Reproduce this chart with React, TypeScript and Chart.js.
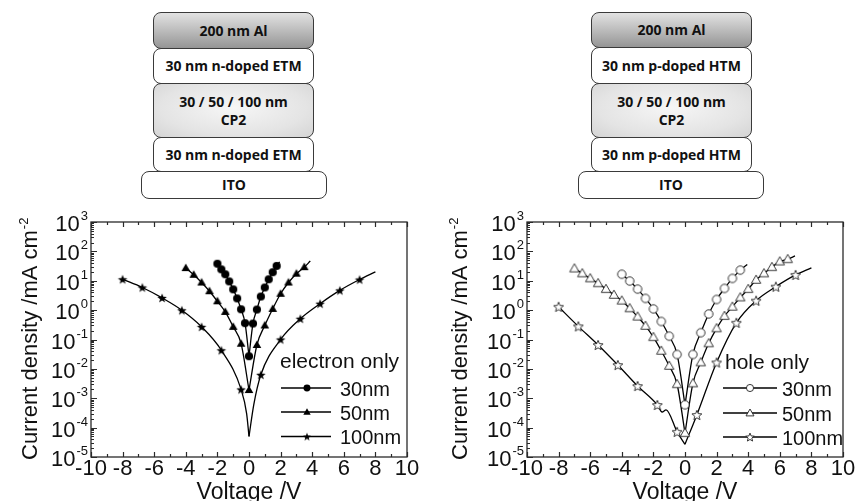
import React, { useEffect, useRef } from 'react';
import { Chart, registerables } from 'chart.js';

Chart.register(...registerables);

const FONT = "'Liberation Sans', Arial, Helvetica, sans-serif";
const STACK_FONT = "'Open Sans', 'Noto Sans', sans-serif";

// ---------- axis ticks ----------
const xTickLabels = [-10, -8, -6, -4, -2, 0, 2, 4, 6, 8, 10];
const xMinorTicks = [-9, -7, -5, -3, -1, 1, 3, 5, 7, 9];
const yTickExps = [-5, -4, -3, -2, -1, 0, 1, 2, 3];
const yMinorMult = [2, 3, 4, 5, 6, 7, 8, 9];

// ---------- electron only ----------
const e30V = [-2, -1.75, -1.5, -1.25, -1, -0.75, -0.5, -0.25, 0, 0.25, 0.5, 0.75, 1, 1.25, 1.5, 1.75];
const e30J = [38, 24.5, 16.6, 9.5, 5.1, 2.5, 1.07, 0.36, 0.027, 0.35, 1.05, 2.9, 5.9, 11.2, 19.5, 32];
const e30CurveV = [1.94];
const e30CurveJ = [44];

const e50V = [-4, -3.5, -3, -2.5, -2, -1.5, -1, -0.5, 0, 0.5, 1, 1.5, 2, 2.5, 3, 3.5];
const e50J = [27, 16, 8.7, 4.4, 2.0, 0.87, 0.27, 0.072, 0.0019, 0.065, 0.3, 1.1, 3.6, 8.7, 17.4, 29];
const e50CurveV = [3.88];
const e50CurveJ = [47];

const e100V = [-8, -6.75, -5.5, -4.25, -3, -1.75, -0.5, 0.75, 2, 3.25, 4.5, 5.75, 7];
const e100J = [11.2, 5.9, 2.6, 0.99, 0.27, 0.043, 0.002, 0.0063, 0.1, 0.51, 1.66, 4.7, 11];
const e100CurveV = [-0.15, 0, 0.3, 8];
const e100CurveJ = [3e-4, 5e-5, 6e-4, 20];

// ---------- hole only ----------
const h30V = [-4, -3.5, -3, -2.5, -2, -1.5, -1, -0.5, 0, 0.5, 1, 1.5, 2, 2.5, 3, 3.5];
const h30J = [16.7, 9.8, 5.2, 2.5, 1.1, 0.41, 0.13, 0.031, 0.0006, 0.031, 0.17, 0.74, 2.3, 5.5, 12, 23];
const h30CurveV = [3.94];
const h30CurveJ = [36];

const h50V = [-7, -6.5, -6, -5.5, -5, -4.5, -4, -3.5, -3, -2.5, -2, -1.5, -1, -0.5, 0, 0.5, 1, 1.5, 2, 2.5, 3, 3.5, 4, 4.5, 5, 5.5, 6, 6.5];
const h50J = [26, 17.8, 12, 8.2, 5.2, 3.3, 2.1, 1.15, 0.6, 0.29, 0.12, 0.041, 0.0126, 0.003, 6.5e-5, 0.0032, 0.0166, 0.074, 0.24, 0.63, 1.3, 2.7, 5.2, 10.7, 17.8, 29, 45, 54];
const h50CurveV = [6.96];
const h50CurveJ = [70];

const h100V = [-8, -6.75, -5.5, -4.25, -3, -1.75, -0.5, 0.75, 2, 3.25, 4.5, 5.75, 7];
const h100J = [1.3, 0.28, 0.065, 0.0135, 0.0026, 0.00059, 7.2e-5, 2.7e-4, 0.0165, 0.37, 2.1, 6.3, 15.8];
const h100CurveV = [-1.45, -1.2, 0, 8];
const h100CurveJ = [3.4e-4, 4.0e-4, 2.7e-5, 27.5];

const seriesNames = ['30nm', '50nm', '100nm'];

// ---------- layer stacks ----------
const leftLayers = ['200 nm Al', '30 nm n-doped ETM', '30 / 50 / 100 nm|CP2', '30 nm n-doped ETM', 'ITO'];
const rightLayers = ['200 nm Al', '30 nm p-doped HTM', '30 / 50 / 100 nm|CP2', '30 nm p-doped HTM', 'ITO'];

type Kind = 'fcircle' | 'ftri' | 'fstar' | 'ocircle' | 'otri' | 'ostar';

function makeSprite(kind: Kind, scale = 1): HTMLCanvasElement {
  const S = 14;
  const c = document.createElement('canvas');
  c.width = S;
  c.height = S;
  const ctx = c.getContext('2d')!;
  const cx = S / 2, cy = S / 2;
  const filled = kind[0] === 'f';
  ctx.beginPath();
  if (kind === 'fcircle' || kind === 'ocircle') {
    ctx.arc(cx, cy, (filled ? 4.1 : 4.2) * scale, 0, Math.PI * 2);
  } else if (kind === 'ftri' || kind === 'otri') {
    const r = (filled ? 5.0 : 5.4) * scale;
    for (let i = 0; i < 3; i++) {
      const a = -Math.PI / 2 + (i * 2 * Math.PI) / 3;
      const px = cx + r * Math.cos(a), py = cy + 0.6 + r * Math.sin(a);
      if (i === 0) ctx.moveTo(px, py); else ctx.lineTo(px, py);
    }
    ctx.closePath();
  } else {
    const ro = (filled ? 5.0 : 5.2) * scale, ri = (filled ? 2.1 : 2.3) * scale;
    for (let i = 0; i < 10; i++) {
      const a = -Math.PI / 2 + (i * Math.PI) / 5;
      const r = i % 2 === 0 ? ro : ri;
      const px = cx + r * Math.cos(a), py = cy + 0.5 + r * Math.sin(a);
      if (i === 0) ctx.moveTo(px, py); else ctx.lineTo(px, py);
    }
    ctx.closePath();
  }
  if (filled) {
    ctx.fillStyle = '#000';
    ctx.fill();
  } else {
    ctx.fillStyle = '#fff';
    ctx.fill();
    ctx.strokeStyle = '#222';
    ctx.lineWidth = 0.9;
    ctx.stroke();
  }
  return c;
}

function branches(mV: number[], mJ: number[], cV: number[], cJ: number[]) {
  const pts = mV.map((v, i) => ({ x: v, y: mJ[i] }))
    .concat(cV.map((v, i) => ({ x: v, y: cJ[i] })))
    .sort((a, b) => a.x - b.x);
  return [pts.filter(p => p.x <= 0), pts.filter(p => p.x >= 0)];
}

interface Series { mV: number[]; mJ: number[]; cV: number[]; cJ: number[]; sprite: HTMLCanvasElement; }

interface Decor {
  title: string;
  titleX: number; titleBase: number;
  legLineX0: number; legLineX1: number; legMarkX: number; legTextX: number;
  legRows: number[];
  sprites: HTMLCanvasElement[];
}

function drawPow(ctx: CanvasRenderingContext2D, exp: string, xRight: number, yTick: number) {
  ctx.font = `22px ${FONT}`;
  const wBase = ctx.measureText('10').width;
  ctx.font = `13px ${FONT}`;
  const wExp = ctx.measureText(exp).width;
  const x0 = xRight - wBase - wExp - 1;
  ctx.textAlign = 'left';
  ctx.textBaseline = 'alphabetic';
  ctx.font = `22px ${FONT}`;
  ctx.fillText('10', x0, yTick + 9);
  ctx.font = `13px ${FONT}`;
  ctx.fillText(exp, x0 + wBase + 1, yTick - 2);
}

function makeDecor(d: Decor) {
  return {
    id: 'decor',
    afterDraw(chart: any) {
      const ctx: CanvasRenderingContext2D = chart.ctx;
      const a = chart.chartArea;
      const xs = chart.scales.x, ys = chart.scales.y;
      ctx.save();
      ctx.strokeStyle = '#2a2a2a';
      ctx.lineWidth = 1.2;
      ctx.beginPath();
      const xt = (v: number, len: number) => {
        const px = Math.round(xs.getPixelForValue(v)) + 0.5;
        ctx.moveTo(px, a.bottom); ctx.lineTo(px, a.bottom - len);
        ctx.moveTo(px, a.top); ctx.lineTo(px, a.top + len);
      };
      xTickLabels.forEach(v => xt(v, 5));
      xMinorTicks.forEach(v => xt(v, 3));
      yTickExps.forEach((e, i) => {
        const py = Math.round(ys.getPixelForValue(Math.pow(10, e))) + 0.5;
        ctx.moveTo(a.left, py); ctx.lineTo(a.left + 6, py);
        if (i < yTickExps.length - 1) {
          yMinorMult.forEach(m => {
            const q = Math.round(ys.getPixelForValue(m * Math.pow(10, e))) + 0.5;
            ctx.moveTo(a.left, q); ctx.lineTo(a.left + 3, q);
          });
        }
      });
      ctx.stroke();
      ctx.lineWidth = 1.3;
      ctx.strokeRect(a.left, a.top, a.right - a.left, a.bottom - a.top);

      ctx.fillStyle = '#111';
      // x tick labels
      ctx.font = `22px ${FONT}`;
      ctx.textAlign = 'center';
      ctx.textBaseline = 'alphabetic';
      xTickLabels.forEach(v => {
        ctx.fillText(String(v), xs.getPixelForValue(v), a.bottom + 18);
      });
      // y tick labels
      yTickExps.forEach(e => {
        drawPow(ctx, String(e), a.left - 3, ys.getPixelForValue(Math.pow(10, e)));
      });
      // x title
      ctx.font = `23px ${FONT}`;
      ctx.textAlign = 'center';
      ctx.fillText('Voltage /V', (a.left + a.right) / 2, 299);
      // y title
      ctx.save();
      ctx.translate(37, 260);
      ctx.rotate(-Math.PI / 2);
      ctx.font = `22px ${FONT}`;
      ctx.textAlign = 'left';
      const main = 'Current density /mA cm';
      ctx.fillText(main, 0, 0);
      const wm = ctx.measureText(main).width;
      ctx.font = `13px ${FONT}`;
      ctx.fillText('-2', wm + 1, -9);
      ctx.restore();

      // legend
      ctx.font = `21px ${FONT}`;
      ctx.textAlign = 'left';
      ctx.fillText(d.title, d.titleX, d.titleBase);
      ctx.font = `20px ${FONT}`;
      ctx.strokeStyle = '#000';
      ctx.lineWidth = 1.3;
      d.legRows.forEach((y, i) => {
        ctx.beginPath();
        ctx.moveTo(d.legLineX0, y);
        ctx.lineTo(d.legLineX1, y);
        ctx.stroke();
        const s = d.sprites[i];
        ctx.drawImage(s, d.legMarkX - s.width / 2, y - s.height / 2);
        ctx.fillText(seriesNames[i], d.legTextX, y + 7.5);
      });
      ctx.restore();
    },
  };
}

function buildConfig(series: Series[], padding: any, decor: Decor): any {
  const datasets: any[] = [];
  series.forEach(s => {
    datasets.push({
      data: s.mV.map((v, i) => ({ x: v, y: s.mJ[i] })),
      showLine: false,
      pointStyle: s.sprite,
      pointRadius: 5,
      order: 0,
    });
  });
  series.forEach(s => {
    branches(s.mV, s.mJ, s.cV, s.cJ).forEach(b => {
      datasets.push({
        data: b,
        showLine: true,
        pointRadius: 0,
        borderColor: '#000',
        borderWidth: 1.3,
        cubicInterpolationMode: 'monotone',
        order: 1,
      });
    });
  });
  return {
    type: 'scatter',
    data: { datasets },
    options: {
      animation: false,
      responsive: false,
      devicePixelRatio: 1,
      layout: { padding },
      events: [],
      scales: {
        x: { type: 'linear', min: -10, max: 10, display: false },
        y: { type: 'logarithmic', min: 1e-5, max: 1e3, display: false },
      },
      plugins: { legend: { display: false }, tooltip: { enabled: false } },
    },
    plugins: [makeDecor(decor)],
  };
}

interface LayerBox { l: number; t: number; w: number; h: number; bg: string; }

const AL_BG = 'linear-gradient(180deg, #e2e2e2 0%, #bcbcbc 50%, #959595 100%)';
const CP_BG = 'radial-gradient(ellipse at 50% 45%, #f6f6f6 0%, #e4e4e4 65%, #d4d4d4 100%)';

const leftBoxes: LayerBox[] = [
  { l: 153, t: 12, w: 161, h: 37, bg: AL_BG },
  { l: 153, t: 48, w: 161, h: 36, bg: '#fff' },
  { l: 153, t: 83, w: 161, h: 55, bg: CP_BG },
  { l: 153, t: 137, w: 161, h: 35, bg: '#fff' },
  { l: 141, t: 171, w: 186, h: 28, bg: '#fff' },
];
const rightBoxes: LayerBox[] = [
  { l: 591, t: 12, w: 161, h: 36, bg: AL_BG },
  { l: 591, t: 47, w: 161, h: 37, bg: '#fff' },
  { l: 591, t: 83, w: 161, h: 55, bg: CP_BG },
  { l: 591, t: 137, w: 161, h: 35, bg: '#fff' },
  { l: 578, t: 171, w: 186, h: 28, bg: '#fff' },
];

function Stack({ boxes, texts }: { boxes: LayerBox[]; texts: string[] }) {
  return (
    <>
      {boxes.map((b, i) => (
        <div
          key={i}
          style={{
            position: 'absolute', left: b.l, top: b.t, width: b.w, height: b.h,
            boxSizing: 'border-box', border: '1.3px solid #3a3a3a', borderRadius: 8,
            background: b.bg, display: 'flex', flexDirection: 'column',
            alignItems: 'center', justifyContent: 'center',
            fontFamily: STACK_FONT, fontWeight: 700, fontSize: 14, lineHeight: '18px', color: '#111',
          }}
        >
          {texts[i].split('|').map((t, j) => <div key={j}>{t}</div>)}
        </div>
      ))}
    </>
  );
}

export default function App() {
  const leftRef = useRef<HTMLCanvasElement>(null);
  const rightRef = useRef<HTMLCanvasElement>(null);

  useEffect(() => {
    const sp: Record<Kind, HTMLCanvasElement> = {
      fcircle: makeSprite('fcircle'), ftri: makeSprite('ftri'), fstar: makeSprite('fstar'),
      ocircle: makeSprite('ocircle'), otri: makeSprite('otri'), ostar: makeSprite('ostar'),
    };
    const lg: Record<Kind, HTMLCanvasElement> = {
      fcircle: makeSprite('fcircle', 0.85), ftri: makeSprite('ftri', 0.85), fstar: makeSprite('fstar', 0.85),
      ocircle: makeSprite('ocircle', 0.85), otri: makeSprite('otri', 0.85), ostar: makeSprite('ostar', 0.85),
    };
    const leftSeries: Series[] = [
      { mV: e30V, mJ: e30J, cV: e30CurveV, cJ: e30CurveJ, sprite: sp.fcircle },
      { mV: e50V, mJ: e50J, cV: e50CurveV, cJ: e50CurveJ, sprite: sp.ftri },
      { mV: e100V, mJ: e100J, cV: e100CurveV, cJ: e100CurveJ, sprite: sp.fstar },
    ];
    const rightSeries: Series[] = [
      { mV: h30V, mJ: h30J, cV: h30CurveV, cJ: h30CurveJ, sprite: sp.ocircle },
      { mV: h50V, mJ: h50J, cV: h50CurveV, cJ: h50CurveJ, sprite: sp.otri },
      { mV: h100V, mJ: h100J, cV: h100CurveV, cJ: h100CurveJ, sprite: sp.ostar },
    ];
    const c1 = new Chart(leftRef.current!, buildConfig(leftSeries, { left: 91, right: 23, top: 22, bottom: 44 }, {
      title: 'electron only', titleX: 280, titleBase: 168,
      legLineX0: 281, legLineX1: 331, legMarkX: 307, legTextX: 340,
      legRows: [188, 212, 236.5],
      sprites: [lg.fcircle, lg.ftri, lg.fstar],
    }));
    const c2 = new Chart(rightRef.current!, buildConfig(rightSeries, { left: 97, right: 12, top: 22, bottom: 44 }, {
      title: 'hole only', titleX: 295, titleBase: 169,
      legLineX0: 293, legLineX1: 347, legMarkX: 320, legTextX: 352,
      legRows: [188, 213, 237],
      sprites: [lg.ocircle, lg.otri, lg.ostar],
    }));
    return () => { c1.destroy(); c2.destroy(); };
  }, []);

  return (
    <div style={{ position: 'fixed', left: 0, top: 0, width: 855, height: 501, background: '#fff', overflow: 'hidden' }}>
      <Stack boxes={leftBoxes} texts={leftLayers} />
      <Stack boxes={rightBoxes} texts={rightLayers} />
      <canvas ref={leftRef} width={430} height={301} style={{ position: 'absolute', left: 0, top: 200, width: 430, height: 301 }} />
      <canvas ref={rightRef} width={425} height={301} style={{ position: 'absolute', left: 430, top: 200, width: 425, height: 301 }} />
    </div>
  );
}
